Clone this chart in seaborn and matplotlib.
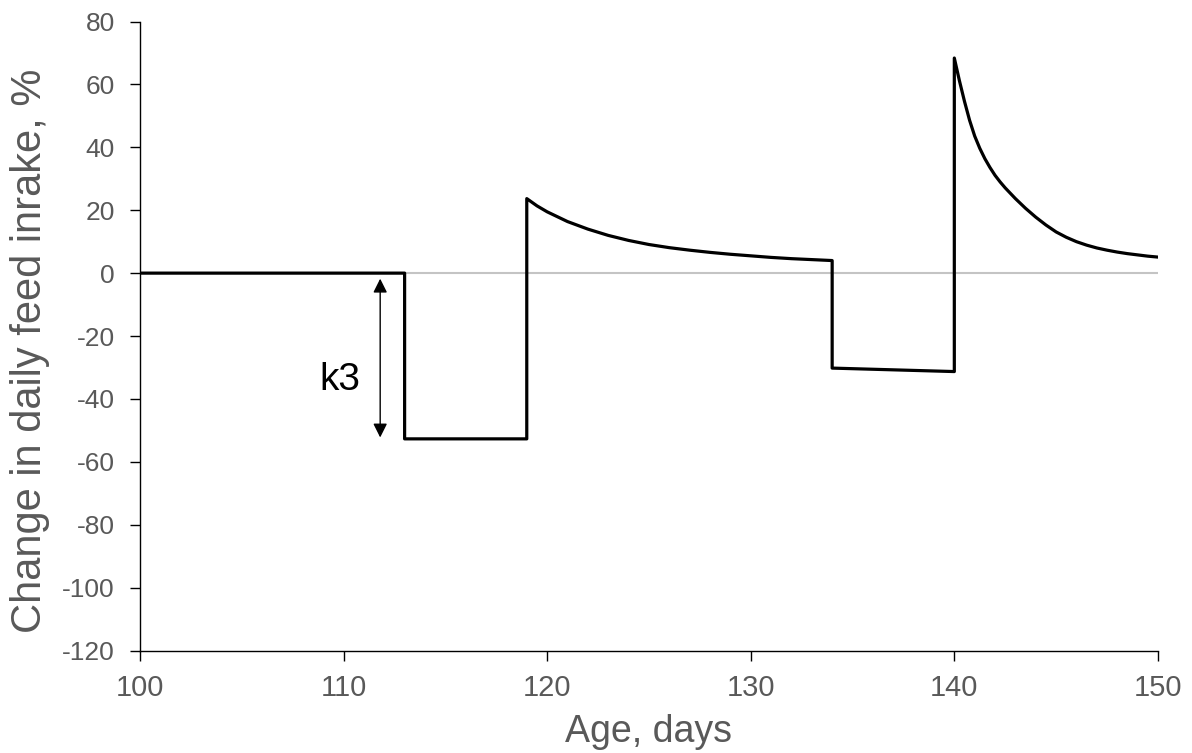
import matplotlib
matplotlib.use("Agg")

import matplotlib.pyplot as plt
import pandas as pd
import seaborn as sns

# values (age in days, change in %)
baseline_days = [100, 113]
baseline_change = [0.0, 0.0]

restriction1_days = [113, 119]
restriction1_change = [-52.7, -52.7]

recovery1_days = [119, 119.5, 120, 121, 122, 123, 124, 125, 126, 127, 128, 129, 130, 131, 132, 133, 134]
recovery1_change = [23.7, 21.4, 19.5, 16.4, 14.0, 12.0, 10.4, 9.1, 8.1, 7.3, 6.6, 6.0, 5.5, 5.0, 4.6, 4.3, 4.0]

restriction2_days = [134, 140]
restriction2_change = [-30.2, -31.3]

recovery2_days = [140, 140.25, 140.5, 140.75, 141, 141.25, 141.5, 141.75, 142, 142.25, 142.5,
                  143, 143.5, 144, 144.5, 145, 145.5, 146, 146.5, 147, 147.5,
                  148, 148.5, 149, 149.5, 150]
recovery2_change = [68.4, 61.2, 54.6, 48.6, 43.6, 39.7, 36.4, 33.6, 31.1, 29.0, 27.1,
                    23.7, 20.6, 17.8, 15.3, 13.1, 11.4, 10.0, 8.9, 8.0, 7.3,
                    6.7, 6.2, 5.8, 5.4, 5.1]

x_ticks = [100, 110, 120, 130, 140, 150]
y_ticks = [-120, -100, -80, -60, -40, -20, 0, 20, 40, 60, 80]

TEXT_GREY = "#595959"


def set_plot_style() -> None:
    sns.set_theme(style="ticks")
    plt.rcParams["font.family"] = ["Liberation Sans", "DejaVu Sans"]
    plt.rcParams["axes.unicode_minus"] = False


def build_frame() -> pd.DataFrame:
    days = baseline_days + restriction1_days + recovery1_days + restriction2_days + recovery2_days
    change = (baseline_change + restriction1_change + recovery1_change
              + restriction2_change + recovery2_change)
    return pd.DataFrame({"day": days, "change": change})


def plot_feed_intake(df: pd.DataFrame, output_path: str) -> None:
    set_plot_style()
    fig = plt.figure(figsize=(11.92, 7.53), dpi=100)
    ax = fig.add_axes([0.1174, 0.1361, 0.854, 0.8353])

    ax.axhline(0, color="#c4c4c4", linewidth=1.5, zorder=1)
    sns.lineplot(data=df, x="day", y="change", sort=False, estimator=None,
                 color="black", linewidth=2.3, ax=ax, zorder=3)

    # k3 marker: depth of the first restriction
    ax.annotate("", xy=(111.8, restriction1_change[0]), xytext=(111.8, 0),
                arrowprops=dict(arrowstyle="<|-|>,head_length=0.6,head_width=0.3",
                                color="black", lw=1.0, mutation_scale=14,
                                shrinkA=4, shrinkB=1))
    ax.text(109.8, -34, "k3", fontsize=28, color="black", ha="center", va="center")

    ax.set_xlim(100, 150)
    ax.set_ylim(-120, 80)
    ax.set_xticks(x_ticks)
    ax.set_yticks(y_ticks)
    ax.tick_params(axis="x", length=7.2, width=1, color="black", labelcolor=TEXT_GREY,
                   labelsize=21, pad=10)
    ax.tick_params(axis="y", length=7.2, width=1, color="black", labelcolor=TEXT_GREY,
                   labelsize=19, pad=11)
    for side in ("top", "right"):
        ax.spines[side].set_visible(False)
    for side in ("left", "bottom"):
        ax.spines[side].set_color("black")
        ax.spines[side].set_linewidth(1.0)

    ax.set_xlabel("Age, days", fontsize=27, color=TEXT_GREY, labelpad=8)
    ax.set_ylabel("Change in daily feed inrake, %", fontsize=30, color=TEXT_GREY)
    ax.yaxis.set_label_coords(-0.088, 0.476)

    fig.savefig(output_path, dpi=100)
    plt.close(fig)


plot_feed_intake(build_frame(), "out.png")
